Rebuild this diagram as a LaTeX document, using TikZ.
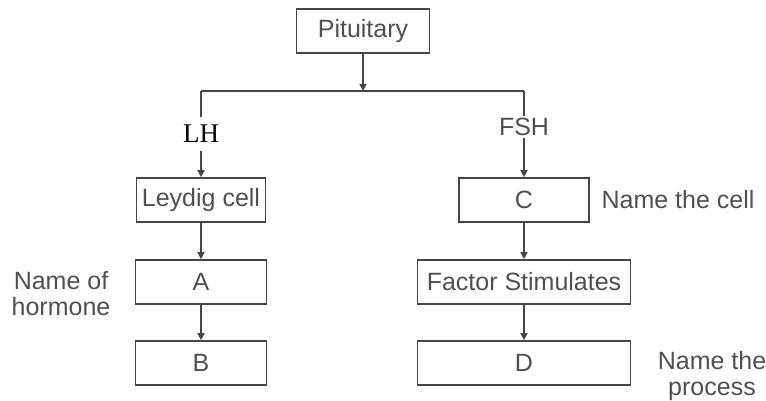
\documentclass[tikz,border=0pt]{standalone}
\usepackage{fontspec}
\setmainfont{Liberation Sans}
\newfontfamily\lhfont{Liberation Serif}
\usetikzlibrary{arrows.meta}
\definecolor{inkgray}{RGB}{70,70,70}
\definecolor{txtgray}{RGB}{80,80,80}
\tikzset{
    box/.style={draw=inkgray, line width=1.6pt, minimum height=44pt, inner sep=0pt,
        text=txtgray, font=\fontsize{25}{28}\selectfont},
    note/.style={text=txtgray, align=center, font=\fontsize{25}{26}\selectfont},
    arr/.style={draw=inkgray, line width=1.4pt, -{Triangle[length=7pt,width=7pt]}},
}
\begin{document}
\begin{tikzpicture}[x=1pt, y=-1pt]
            \useasboundingbox (0,0) rectangle (766,401);
            % boxes
            \node[box, minimum width=133pt] (pit) at (363,31) {Pituitary};
            \node[box, minimum width=129pt] (leydig) at (201,200) {Leydig cell};
            \node[box, minimum width=131pt] (a) at (201,282) {A};
            \node[box, minimum width=131pt] (b) at (201,363) {B};
            \node[box, minimum width=130pt] (c) at (524,200) {C};
            \node[box, minimum width=213pt] (fac) at (524,282) {Factor Stimulates};
            \node[box, minimum width=213pt] (d) at (524,363) {D};
            % side notes
            \node[note] (ncell) at (678,200) {Name the cell};
            \node[note] (nhorm) at (61,294) {Name of\\hormone};
            \node[note] (nproc) at (712,376) {Name the\\process};
            % branch line
            \coordinate (jl) at (201,91);
            \coordinate (jm) at (363,91);
            \coordinate (jr) at (524,91);
            \draw[arr] (pit) -- (jm);
            \draw[inkgray, line width=1.4pt] (jl) -- (jr);
            \draw[arr] (jl) -- node[fill=white, text=black, font=\lhfont\fontsize{27}{28}\selectfont,
                inner xsep=20pt, inner ysep=8pt] (lh) {LH} (leydig);
            \draw[arr] (jr) -- node[pos=0.42, fill=white, text=txtgray,
                font=\fontsize{25}{26}\selectfont, inner sep=2pt] (fsh) {FSH} (c);
            \foreach \s/\t in {leydig/a, a/b, c/fac, fac/d} {
                \draw[arr] (\s) -- (\t);
            }
        \end{tikzpicture}
\end{document}
